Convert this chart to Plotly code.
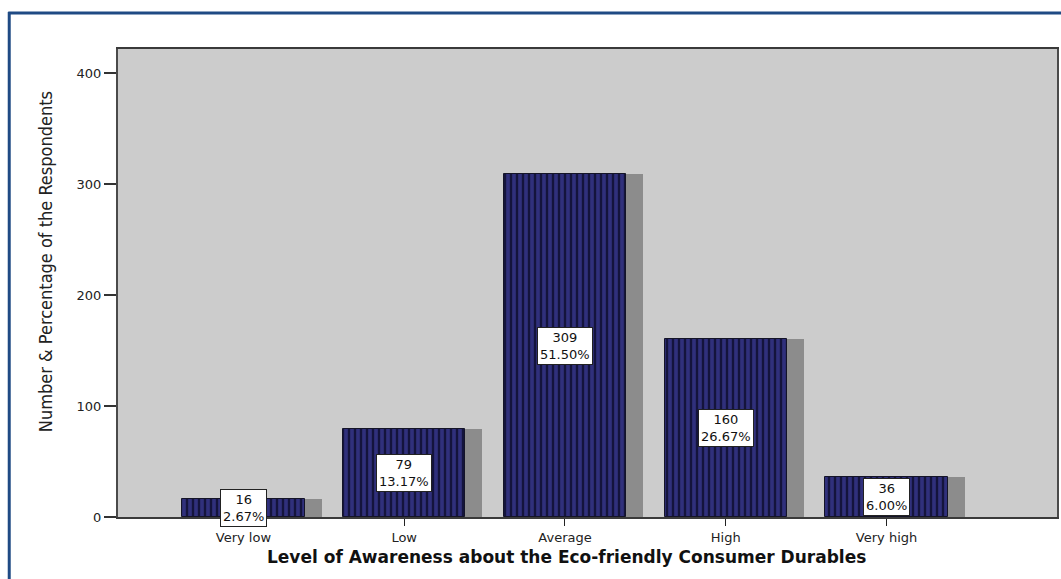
import plotly.graph_objects as go

# Survey results: awareness level of eco-friendly consumer durables
categories = ["Very low", "Low", "Average", "High", "Very high"]
counts = [16, 79, 309, 160, 36]
percents = ["2.67%", "13.17%", "51.50%", "26.67%", "6.00%"]
y_ticks = [0, 100, 200, 300, 400]

W, H = 1061, 579
L, R, T, B = 118, 2, 49, 62
plot_w = W - L - R
plot_h = H - T - B

positions = list(range(len(categories)))
bar_w = 0.76
shadow_shift = 0.106

def px_x(px):
    return (px - L) / plot_w

def px_y(py):
    return (H - B - py) / plot_h

fig = go.Figure()

# drop shadow behind each bar
fig.add_trace(go.Bar(
    x=positions, y=counts, width=bar_w, offset=-bar_w / 2 + shadow_shift,
    marker=dict(color="#8c8c8c", line=dict(width=0)),
    hoverinfo="skip", showlegend=False,
))

# striped navy bars
fig.add_trace(go.Bar(
    x=positions, y=counts, width=bar_w, offset=-bar_w / 2,
    marker=dict(
        color="#30307c",
        line=dict(color="#141428", width=1),
        pattern=dict(shape="|", fgcolor="#14143c", bgcolor="#30307c",
                     size=6, solidity=0.4, fillmode="replace"),
    ),
    showlegend=False,
))

annotations = []
for pos, c, p in zip(positions, counts, percents):
    annotations.append(dict(
        x=pos, y=c / 2, xref="x", yref="y",
        text=f"{c}<br>{p}", showarrow=False,
        font=dict(family="DejaVu Sans", size=13, color="#111111"),
        bgcolor="white", bordercolor="#222222", borderwidth=1, borderpad=2,
    ))

annotations.append(dict(
    x=px_x(45), y=px_y(262), xref="paper", yref="paper",
    xanchor="center", yanchor="middle",
    text="Number & Percentage of the Respondents", textangle=-90,
    showarrow=False,
    font=dict(family="Liberation Sans Narrow, DejaVu Sans Condensed, sans-serif",
              size=18, color="#222222"),
))
annotations.append(dict(
    x=px_x(567), y=px_y(557), xref="paper", yref="paper",
    xanchor="center", yanchor="middle",
    text="<b>Level of Awareness about the Eco-friendly Consumer Durables</b>",
    showarrow=False,
    font=dict(family="DejaVu Sans", size=17, color="#111111"),
))

shapes = [
    dict(type="line", xref="paper", yref="paper",
         x0=px_x(8), x1=px_x(W + 5), y0=px_y(13), y1=px_y(13),
         line=dict(color="#1f4a84", width=3)),
    dict(type="line", xref="paper", yref="paper",
         x0=px_x(9), x1=px_x(9), y0=px_y(12), y1=px_y(H + 5),
         line=dict(color="#1f4a84", width=3)),
]

fig.update_layout(
    width=W, height=H,
    margin=dict(l=L, r=R, t=T, b=B),
    paper_bgcolor="white", plot_bgcolor="#cccccc",
    barmode="overlay", bargap=0,
    annotations=annotations, shapes=shapes,
    xaxis=dict(
        range=[-0.78, 5.06], tickmode="array", tickvals=positions, ticktext=categories,
        ticks="outside", ticklen=7, tickcolor="#222222", tickwidth=1,
        showgrid=False, zeroline=False,
        showline=True, linecolor="#3a3a3a", linewidth=2, mirror=True,
        tickfont=dict(family="DejaVu Sans", size=13, color="#222222"),
    ),
    yaxis=dict(
        range=[0, 421.6], tickmode="array", tickvals=y_ticks,
        ticks="outside", ticklen=12, tickcolor="#333333", tickwidth=2,
        showgrid=False, zeroline=False,
        showline=True, linecolor="#4a4a4a", linewidth=2, mirror=True,
        tickfont=dict(family="DejaVu Sans", size=13, color="#222222"),
    ),
)

fig.write_html("out.html")
